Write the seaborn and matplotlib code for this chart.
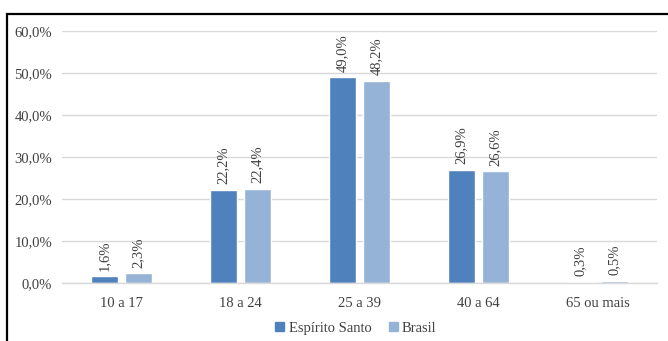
import matplotlib
matplotlib.use("Agg")
import matplotlib.pyplot as plt
import matplotlib.patches as mpatches
import seaborn as sns
import pandas as pd
from matplotlib.ticker import FuncFormatter, MultipleLocator

# Age groups and share of each population (%)
faixas = ["10 a 17", "18 a 24", "25 a 39", "40 a 64", "65 ou mais"]
espirito_santo = [1.6, 22.2, 49.0, 26.9, 0.3]
brasil = [2.3, 22.4, 48.2, 26.6, 0.5]
series = ["Espírito Santo", "Brasil"]
cores = ["#4F81BD", "#95B3D7"]

df = pd.DataFrame({
    "faixa": faixas * 2,
    "valor": espirito_santo + brasil,
    "serie": [series[0]] * len(faixas) + [series[1]] * len(faixas),
})

sns.set_theme(style="white")
plt.rcParams["font.family"] = ["Liberation Serif", "DejaVu Serif"]

fig = plt.figure(figsize=(6.68, 3.41), dpi=100)
ax = fig.add_axes([0.0928, 0.170, 0.8907, 0.739])

sns.barplot(data=df, x="faixa", y="valor", hue="serie", palette=cores,
            order=faixas, hue_order=series, width=0.57, gap=0.22,
            saturation=1, ax=ax, legend=False)

ax.set_ylim(0, 60)
ax.yaxis.set_major_locator(MultipleLocator(10))
ax.yaxis.set_major_formatter(FuncFormatter(lambda v, p: f"{v:.1f}%".replace(".", ",")))
ax.grid(axis="y", color="#D9D9D9", linewidth=1)
ax.set_axisbelow(True)
for s in ["top", "right", "left"]:
    ax.spines[s].set_visible(False)
ax.spines["bottom"].set_color("#D9D9D9")
ax.spines["bottom"].set_linewidth(1)
ax.tick_params(axis="both", length=0, labelsize=10.5, colors="#404040", pad=7)
ax.tick_params(axis="x", pad=10)
ax.set_xlabel("")
ax.set_ylabel("")

# Value labels, rotated above each bar
for cont in ax.containers:
    labels = [f"{b.get_height():.1f}%".replace(".", ",") for b in cont]
    ax.bar_label(cont, labels=labels, rotation=90, padding=4,
                 fontsize=10.5, color="#404040")

handles = [mpatches.Patch(color=c, label=s) for c, s in zip(cores, series)]
fig.legend(handles=handles, loc="center", bbox_to_anchor=(0.533, 0.038),
           ncol=2, frameon=False, fontsize=10.5, handlelength=0.6,
           handleheight=0.6, handletextpad=0.3, columnspacing=1.2,
           labelcolor="#404040")

# Outer frame around the chart
fig.add_artist(mpatches.Rectangle((7 / 668, -0.1), 1.2, 1 + 0.1 - 14 / 341,
                                  transform=fig.transFigure, fill=False,
                                  edgecolor="black", linewidth=1.6))

fig.savefig("out.png", dpi=100)
